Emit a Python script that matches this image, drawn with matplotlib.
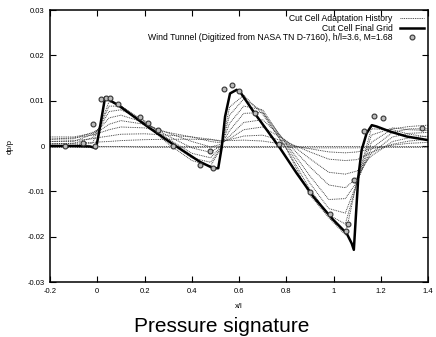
import matplotlib
matplotlib.use("Agg")
import matplotlib.pyplot as plt

plt.rcParams["font.family"] = ["Liberation Sans", "DejaVu Sans"]

# Final grid solution (x/l, dp/p)
x_final = [-0.2, -0.1, -0.03, -0.005, 0.012, 0.033, 0.089, 0.223, 0.315, 0.435,
           0.491, 0.512, 0.527, 0.541, 0.562, 0.59, 0.604, 0.661, 0.774, 0.844,
           0.915, 0.999, 1.056, 1.077, 1.086, 1.098, 1.105, 1.119, 1.14, 1.162,
           1.183, 1.239, 1.31, 1.4]
dp_final = [0.0, 0.0, -0.0001, -0.0005, 0.0043, 0.0107, 0.0090, 0.0039, 0.0006, -0.0035,
            -0.0049, -0.0049, -0.0002, 0.0065, 0.0116, 0.0124, 0.0120, 0.0076, -0.0005, -0.0060,
            -0.0112, -0.0163, -0.0193, -0.0215, -0.0229, -0.0126, -0.0068, -0.0009, 0.0028, 0.0046,
            0.0043, 0.0032, 0.0021, 0.0013]

x_tunnel = [-0.136, -0.059, -0.017, -0.009, 0.016, 0.037, 0.054, 0.086, 0.181, 0.216,
            0.256, 0.322, 0.435, 0.477, 0.491, 0.536, 0.569, 0.600, 0.666, 0.769,
            0.900, 0.985, 1.052, 1.063, 1.088, 1.129, 1.171, 1.211, 1.373]
dp_tunnel = [0.0000, 0.0006, 0.0048, 0.0000, 0.0104, 0.0107, 0.0105, 0.0092, 0.0065, 0.0050,
             0.0035, 0.0000, -0.0042, -0.0011, -0.0049, 0.0126, 0.0135, 0.0122, 0.0072, 0.0004,
             -0.0101, -0.0151, -0.0188, -0.0171, -0.0075, 0.0034, 0.0066, 0.0061, 0.0039]

# Adaptation history (dp/p in units of 1e-3), one list per adaptation cycle
x_hist = [-0.2, -0.1, -0.02, 0.01, 0.05, 0.1, 0.2, 0.3, 0.4, 0.48, 0.525, 0.56,
          0.62, 0.7, 0.8, 0.9, 0.98, 1.05, 1.1, 1.16, 1.25, 1.32, 1.4]
hist_1 = [0.0, 0.0, 0.0, 0.0, 0.0, 0.0, 0.0, 0.0, 0.0, 0.0, 0.0, 0.0,
          0.0, 0.0, 0.0, 0.0, 0.0, 0.0, 0.0, 0.0, 0.0, 0.0, 0.0]
hist_2 = [-0.3, -0.3, -0.3, -0.2, -0.2, -0.2, -0.3, -0.3, -0.3, -0.3, -0.3, -0.3,
          -0.3, -0.3, -0.3, -0.4, -0.4, -0.4, -0.4, -0.3, -0.3, -0.3, -0.3]
hist_3 = [0.5, 0.6, 0.8, 0.9, 1.0, 1.2, 1.4, 1.5, 1.5, 1.4, 1.2, 1.2,
          1.3, 1.1, 0.3, -0.6, -1.3, -1.5, -1.3, -0.6, 0.2, 0.6, 0.8]
hist_4 = [1.0, 1.2, 1.6, 1.9, 2.2, 2.6, 2.7, 2.4, 2.0, 1.5, 1.0, 1.4,
          2.2, 2.4, 0.9, -1.3, -2.9, -3.2, -3.0, -1.4, 0.4, 1.1, 1.5]
hist_5 = [1.5, 1.8, 2.4, 2.9, 3.6, 4.2, 4.0, 3.0, 2.0, 1.0, 0.7, 1.6,
          3.6, 4.2, 1.2, -2.8, -5.8, -6.2, -5.5, -2.2, 1.0, 1.8, 2.2]
hist_6 = [2.0, 2.0, 2.8, 3.4, 4.8, 5.6, 4.8, 2.9, 1.0, -0.2, 0.4, 2.2,
          5.2, 5.8, 1.0, -4.6, -8.6, -9.2, -7.0, -1.6, 2.0, 2.8, 3.0]
hist_7 = [1.5, 1.6, 3.0, 3.8, 6.2, 6.8, 5.2, 2.2, -0.4, -1.4, 0.2, 3.4,
          7.2, 7.4, 0.6, -6.6, -11.8, -11.6, -7.8, -0.6, 3.0, 3.8, 3.8]
hist_8 = [1.0, 1.0, 2.6, 4.0, 7.6, 8.0, 5.6, 1.6, -1.6, -2.6, 0.0, 5.0,
          8.8, 8.0, 0.2, -8.2, -13.8, -14.8, -8.0, 0.8, 3.8, 4.3, 4.6]
hist_9 = [0.5, 0.6, 1.8, 4.2, 8.8, 8.8, 5.4, 1.0, -2.6, -3.6, -0.2, 6.8,
          10.4, 7.6, -0.4, -9.6, -15.2, -17.2, -8.0, 2.4, 4.0, 3.6, 3.4]
hist_10 = [0.2, 0.2, 0.6, 4.4, 9.8, 8.9, 5.0, 0.5, -3.2, -4.4, -0.3, 8.6,
           11.2, 7.0, -0.6, -10.8, -15.8, -19.6, -7.6, 3.8, 3.6, 2.6, 2.0]
history = [hist_1, hist_2, hist_3, hist_4, hist_5, hist_6, hist_7, hist_8, hist_9, hist_10]

fig = plt.figure(figsize=(4.36, 3.37), dpi=100)
ax = fig.add_axes([0.1147, 0.1632, 0.867, 0.807])

for i, h in enumerate(history):
    ax.plot(x_hist, [v * 1e-3 for v in h], color="#333333", lw=0.65,
            linestyle=(0, (1, 1)),
            label="Cut Cell Adaptation History" if i == 0 else None)

ax.plot(x_final, dp_final, color="black", lw=1.8, label="Cut Cell Final Grid")
ax.plot(x_tunnel, dp_tunnel, linestyle="none", marker="o", ms=3.5, mfc="#bbbbbb",
        mec="#333333", mew=0.8,
        label="Wind Tunnel (Digitized from NASA TN D-7160), h/l=3.6, M=1.68")

ax.set_xlim(-0.2, 1.4)
ax.set_ylim(-0.03, 0.03)
ax.set_xticks([-0.2, 0, 0.2, 0.4, 0.6, 0.8, 1, 1.2, 1.4])
ax.set_xticklabels(["-0.2", "0", "0.2", "0.4", "0.6", "0.8", "1", "1.2", "1.4"])
ax.set_yticks([-0.03, -0.02, -0.01, 0, 0.01, 0.02, 0.03])
ax.set_yticklabels(["-0.03", "-0.02", "-0.01", "0", "0.01", "0.02", "0.03"])
ax.tick_params(direction="in", length=4, width=0.8, labelsize=5.5,
               top=True, right=True, pad=4, colors="black")
for s in ax.spines.values():
    s.set_linewidth(1.1)

ax.set_xlabel("x/l", fontsize=5.5, labelpad=6)
ax.set_ylabel("dp/p", fontsize=5.5)
ax.yaxis.set_label_coords(-0.097, 0.5)

leg = ax.legend(loc="upper right", frameon=False, markerfirst=False, fontsize=6.2,
                handlelength=2.8, handletextpad=0.8, labelspacing=0.05,
                handleheight=0.6, borderaxespad=0.3, borderpad=0.2)
# right-align the legend rows like gnuplot does
for col in leg._legend_handle_box.get_children():
    col.align = "right"

fig.text(0.508, 0.016, "Pressure signature", ha="center", va="baseline", fontsize=15)

fig.savefig("out.png", dpi=100)
